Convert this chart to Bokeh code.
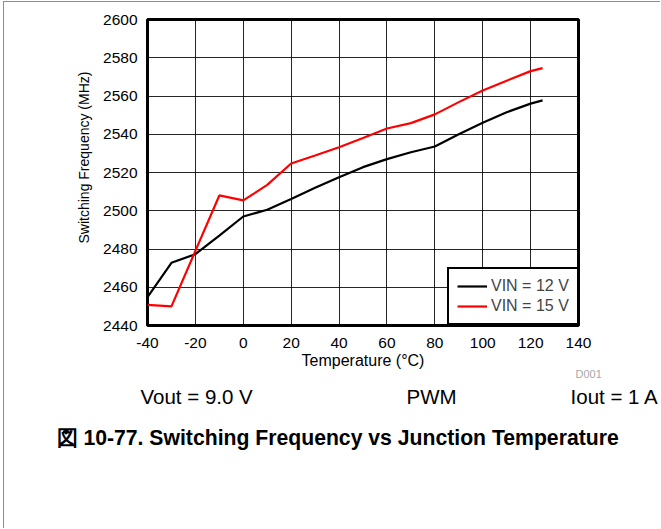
from bokeh.plotting import figure
from bokeh.models import Range1d, FixedTicker, Title, Legend, LegendItem
from bokeh.embed import file_html
from bokeh.resources import INLINE

temps = [-40, -30, -20, -10, 0, 10, 20, 30, 40, 50, 60, 70, 80, 90, 100, 110, 120, 125]
vin12 = [2454.8, 2472.8, 2477.3, 2487.0, 2497.0, 2500.5, 2506.2, 2512.0, 2517.5,
         2522.8, 2527.0, 2530.6, 2533.6, 2540.0, 2546.0, 2551.5, 2556.0, 2557.7]
vin15 = [2450.8, 2450.0, 2479.0, 2508.0, 2505.4, 2513.5, 2524.7, 2528.9, 2533.2,
         2538.0, 2543.0, 2545.8, 2550.4, 2556.8, 2562.9, 2568.0, 2573.0, 2574.6]
x_ticks = [-40, -20, 0, 20, 40, 60, 80, 100, 120, 140]
y_ticks = [2440, 2460, 2480, 2500, 2520, 2540, 2560, 2580, 2600]
series_names = ["VIN = 12 V", "VIN = 15 V"]
series_colors = ["#000000", "#ff0000"]
conditions = ["Vout = 9.0 V", "PWM", "Iout = 1 A"]
caption = "図 10-77. Switching Frequency vs Junction Temperature"

FONT = "Liberation Sans"
NBSP = "\u00a0"

# page / frame placement (window pixels)
OX, OY = 4, 2                      # figure content origin (after page border)
F_L, F_R, F_T, F_B = 147, 578, 19, 325
W, H = 661 - OX, 529 - OY
X0, X1, Y0, Y1 = -40, 140, 2440, 2600

p = figure(width=W, height=H, output_backend="svg", toolbar_location=None,
           x_range=Range1d(X0, X1), y_range=Range1d(Y0, Y1),
           min_border_left=F_L - OX, min_border_right=W - (F_R - OX),
           min_border_top=F_T - OY, min_border_bottom=H - (F_B - OY))
p.styles = {"margin-left": "3px", "margin-top": "1px",
            "border-left": "1px solid #8c8c8c", "border-top": "1px solid #8c8c8c"}
p.background_fill_color = "white"
p.border_fill_color = "white"
p.outline_line_color = "black"
p.outline_line_width = 3

p.xaxis.ticker = FixedTicker(ticks=x_ticks)
p.yaxis.ticker = FixedTicker(ticks=y_ticks)
p.xaxis.major_label_overrides = {t: str(t) for t in x_ticks}
p.yaxis.major_label_overrides = {t: str(t) for t in y_ticks}
for ax in (p.xaxis[0], p.yaxis[0]):
    ax.axis_line_color = None
    ax.major_tick_line_color = None
    ax.minor_tick_line_color = None
    ax.major_tick_out = 0
    ax.major_tick_in = 0
    ax.major_label_text_font = FONT
    ax.major_label_text_font_size = "15.5px"
    ax.major_label_text_color = "black"
    ax.axis_label_text_font = FONT
    ax.axis_label_text_font_style = "normal"
    ax.axis_label_text_font_size = "16px"
    ax.axis_label_text_color = "black"
p.xaxis.major_label_standoff = 12
p.yaxis.major_label_standoff = 10
p.xaxis.axis_label = "Temperature (°C)"
p.xaxis.axis_label_standoff = 1

p.xgrid.ticker = FixedTicker(ticks=x_ticks)
p.ygrid.ticker = FixedTicker(ticks=y_ticks)
for g in (p.xgrid[0], p.ygrid[0]):
    g.grid_line_color = "black"
    g.grid_line_width = 1
    g.grid_line_alpha = 0.85

r12 = p.line(temps, vin12, line_color=series_colors[0], line_width=2.2)
r15 = p.line(temps, vin15, line_color=series_colors[1], line_width=2.2)

legend = Legend(items=[LegendItem(label=series_names[0], renderers=[r12]),
                       LegendItem(label=series_names[1], renderers=[r15])],
                location=(300, 0))
legend.margin = 0
legend.padding = 8
legend.spacing = 2
legend.glyph_width = 30
legend.glyph_height = 16
legend.label_standoff = 4
legend.label_text_font = FONT
legend.label_text_font_size = "16px"
legend.label_height = 16
legend.border_line_color = "black"
legend.border_line_width = 2
legend.border_line_alpha = 1.0
legend.background_fill_alpha = 1.0
p.add_layout(legend, "center")


def make_title(text, size, offset, standoff, bold=False, color="black", align="left"):
    return Title(text=text, align=align, offset=offset, standoff=standoff,
                 text_font=FONT, text_font_size=size,
                 text_font_style="bold" if bold else "normal", text_color=color)


# y axis title (starts near the 2480 level, as in the reference)
p.add_layout(make_title("Switching Frequency (MHz)", "14px", F_B - 243, 18), "left")

# notes below the chart
p.add_layout(make_title("D001", "11px", 575 - F_L, -12, color="#a8a8a8"), "below")
row = conditions[0] + NBSP * 27 + conditions[1] + NBSP * 20 + conditions[2]
p.add_layout(make_title(row, "20.5px", 140 - F_L, 19), "below")
p.add_layout(make_title(caption, "21.2px", 56 - F_L, 12, bold=True), "below")

open("out.html", "w").write(file_html(p, INLINE))
